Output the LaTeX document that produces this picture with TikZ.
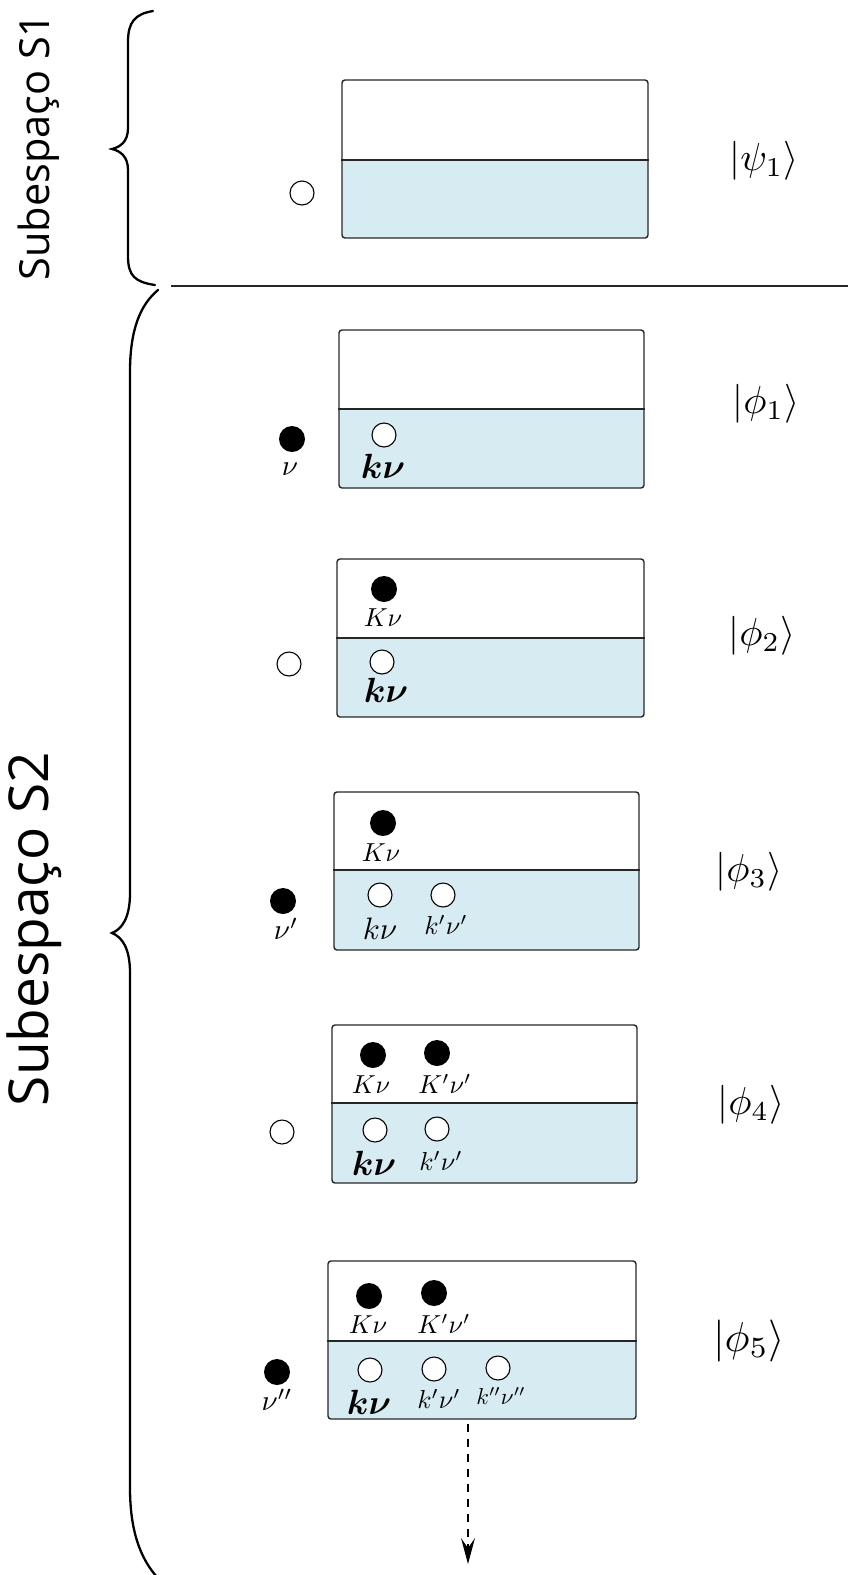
\documentclass[tikz,border=0pt]{standalone}
\usepackage{fontspec}
\usepackage{bm}
\newfontfamily\bracefont{Open Sans}
\definecolor{sea}{RGB}{215,236,242}

% one occupation diagram: name, left, top, right, bottom, level line
\newcommand\statebox[6]{%
  \begin{scope}
    \clip[rounded corners=3] (#2,#3) rectangle (#4,#5);
    \fill[sea] (#2,#6) rectangle (#4,#5);
  \end{scope}
  \node[boxframe, minimum width={#4-#2}, minimum height={#5-#3}] (#1) at ({(#2+#4)/2},{(#3+#5)/2}) {};
  \draw[boxline] (#1.west |- 0,#6) -- (#1.east |- 0,#6);
}

\begin{document}
\begin{tikzpicture}[x=1pt,y=-1pt,
  boxframe/.style={draw=black!85, line width=1.4pt, rounded corners=3, rectangle, inner sep=0pt},
  boxline/.style={draw=black!85, line width=1.4pt},
  hole/.style={circle, draw=black, line width=1.1pt, fill=white, minimum size=24pt, inner sep=0pt},
  elec/.style={circle, fill=black, minimum size=26pt, inner sep=0pt},
  lab/.style={inner sep=0pt, scale=2.6},
  nulab/.style={inner sep=0pt, scale=2.9},
  kbold/.style={inner sep=0pt, scale=3.5},
  ket/.style={inner sep=0pt, scale=3.9},
  bracepen/.style={line width=2.3pt, line cap=round},
  sublabel/.style={rotate=90, inner sep=0pt}
]
\useasboundingbox (0,0) rectangle (848,1575);

% subspace braces and their names
\draw[bracepen] (153,11) .. controls (135,14) and (128,22) .. (128,42) -- (128,128)
  .. controls (128,142) and (120,147) .. (112,149)
  .. controls (120,151) and (128,156) .. (128,170) -- (128,256)
  .. controls (128,276) and (135,282) .. (155,285);
\draw[bracepen] (158,290) .. controls (140,305) and (130,330) .. (130,372) -- (130,893)
  .. controls (130,918) and (122,929) .. (112,933)
  .. controls (122,937) and (130,948) .. (130,973) -- (130,1488)
  .. controls (130,1530) and (140,1558) .. (157,1577);
\node[sublabel, font=\bracefont\fontsize{41.5}{42}\selectfont] (s1) at (39,147) {Subespaço S1};
\node[sublabel, font=\bracefont\fontsize{55}{56}\selectfont] (s2) at (34,929) {Subespaço S2};

% separator between the two subspaces
\coordinate (sepL) at (171,286);
\coordinate (sepR) at (848,286);
\draw[line width=1.4pt, black!85] (sepL) -- (sepR);

% |psi_1>
\statebox{b0}{342}{80}{648}{238}{160}
\node[hole] (p0) at (302,193) {};
\node[ket] (k0) at (764,161) {$|\psi_1\rangle$};

% |phi_1>
\statebox{b1}{339}{330}{644}{488}{409}
\node[elec] (e1) at (292,439) {};
\node[nulab] (e1l) at (290,469) {$\nu$};
\node[hole] (h1) at (384,435) {};
\node[kbold] (h1l) at (383,466) {$\bm{k\nu}$};
\node[ket] (k1) at (766,404) {$|\phi_1\rangle$};

% |phi_2>
\statebox{b2}{337}{559}{644}{717}{638}
\node[elec] (u2) at (384,589) {};
\node[lab] (u2l) at (383,618) {$K\nu$};
\node[hole] (h2) at (382,662) {};
\node[kbold] (h2l) at (386,690) {$\bm{k\nu}$};
\node[hole] (p2) at (289,664) {};
\node[ket] (k2) at (762,636) {$|\phi_2\rangle$};

% |phi_3>
\statebox{b3}{334}{792}{639}{950}{870}
\node[elec] (u3) at (383,823) {};
\node[lab] (u3l) at (381,853) {$K\nu$};
\node[hole] (h3a) at (380,895) {};
\node[hole] (h3b) at (443,895) {};
\node[inner sep=0pt, scale=3.1] (h3al) at (380,929) {$k\nu$};
\node[lab] (h3bl) at (446,925) {$k'\nu'$};
\node[elec] (e3) at (283,901) {};
\node[nulab] (e3l) at (286,929) {$\nu'$};
\node[ket] (k3) at (749,872) {$|\phi_3\rangle$};

% |phi_4>
\statebox{b4}{332}{1025}{637}{1183}{1103}
\node[elec] (u4a) at (373,1055) {};
\node[elec] (u4b) at (437,1053) {};
\node[lab] (u4al) at (371,1085) {$K\nu$};
\node[lab] (u4bl) at (445,1084) {$K'\nu'$};
\node[hole] (h4a) at (375,1130) {};
\node[hole] (h4b) at (437,1129) {};
\node[kbold] (h4al) at (374,1163) {$\bm{k\nu}$};
\node[lab] (h4bl) at (441,1161) {$k'\nu'$};
\node[hole] (p4) at (282,1132) {};
\node[ket] (k4) at (751,1105) {$|\phi_4\rangle$};

% |phi_5>
\statebox{b5}{328}{1261}{636}{1419}{1341}
\node[elec] (u5a) at (369,1296) {};
\node[elec] (u5b) at (434,1293) {};
\node[lab] (u5al) at (368,1325) {$K\nu$};
\node[lab] (u5bl) at (444,1324) {$K'\nu'$};
\node[hole] (h5a) at (370,1370) {};
\node[hole] (h5b) at (434,1369) {};
\node[hole] (h5c) at (498,1368) {};
\node[kbold] (h5al) at (369,1402) {$\bm{k\nu}$};
\node[lab] (h5bl) at (439,1399) {$k'\nu'$};
\node[inner sep=0pt, scale=2.3] (h5cl) at (501,1396) {$k''\nu''$};
\node[elec] (e5) at (277,1372) {};
\node[nulab] (e5l) at (277,1400) {$\nu''$};
\node[inner sep=0pt, scale=4.2] (k5) at (749,1341) {$|\phi_5\rangle$};

% continuation: dashed shaft ending in a stealth head
\coordinate (more) at (468,1564);
\coordinate (moreback) at (468,1548);
\draw[line width=1.3pt, dash pattern=on 8pt off 7pt] (b5.south -| more) ++(0,4) -- (moreback);
\fill (more) -- ++(-7,-26) -- (moreback) -- ++(7,-10) -- cycle;
\end{tikzpicture}
\end{document}
